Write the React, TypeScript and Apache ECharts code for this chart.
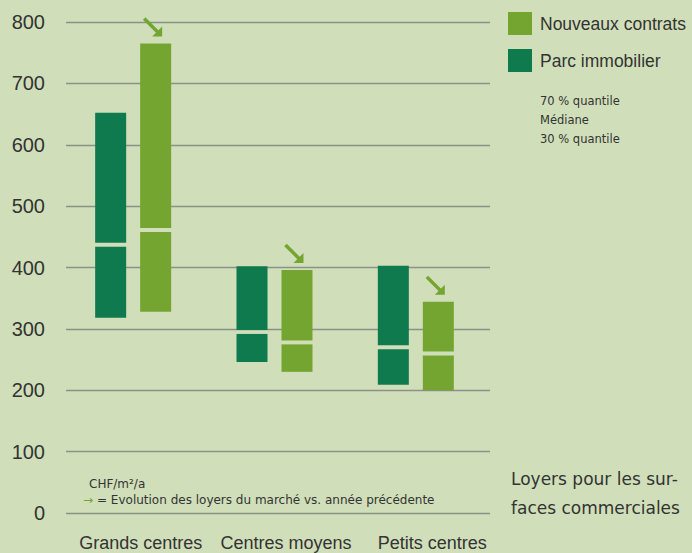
import React, { useEffect, useRef } from "react";
import * as echarts from "echarts";

const categories = ["Grands centres", "Centres moyens", "Petits centres"];
const parcQ30 = [318, 246, 209];
const parcMedian = [437, 295, 270];
const parcQ70 = [652, 402, 403];
const nouveauxQ30 = [328, 230, 200];
const nouveauxMedian = [461, 278, 260];
const nouveauxQ70 = [765, 396, 344];
const yTicks = [0, 100, 200, 300, 400, 500, 600, 700, 800];
const legendNotes = ["70 % quantile", "Médiane", "30 % quantile"];

const BG = "#d0dfb9";
const DARK = "#107a4f";
const LIGHT = "#74a531";
const TEXT = "#333333";
const GRID = "#8a908a";
const FONT = "'Liberation Sans', Arial, sans-serif";
const WIDE = "'DejaVu Sans', sans-serif";

function makeRender(offset: number, withArrow: boolean) {
  return (params: any, api: any) => {
    const i = api.value(0);
    const c = api.coord([i, 0])[0] + offset;
    const barW = 31;
    const x = c - barW / 2;
    const yBot = api.coord([i, api.value(1)])[1];
    const yMed = api.coord([i, api.value(2)])[1];
    const yTop = api.coord([i, api.value(3)])[1];
    const gap = 2;
    const color = api.visual("color");
    const children: any[] = [
      { type: "rect", shape: { x, y: yTop, width: barW, height: yMed - gap - yTop }, style: { fill: color } },
      { type: "rect", shape: { x, y: yMed + gap, width: barW, height: yBot - yMed - gap }, style: { fill: color } },
    ];
    if (withArrow) {
      const tx = x + 22;
      const ty = yTop - 7;
      children.push({
        type: "line",
        shape: { x1: x + 4, y1: yTop - 25, x2: tx - 4, y2: ty - 4 },
        style: { stroke: LIGHT, lineWidth: 3.5 },
      });
      children.push({
        type: "polygon",
        shape: { points: [[tx, ty], [tx, ty - 10], [tx - 10, ty]] },
        style: { fill: LIGHT },
      });
    }
    return { type: "group", children };
  };
}

export default function App() {
  const ref = useRef<HTMLDivElement>(null);
  useEffect(() => {
    if (!ref.current) return;
    const chart = echarts.init(ref.current, null, { renderer: "svg" });
    const parcData = categories.map((_, i) => [i, parcQ30[i], parcMedian[i], parcQ70[i]]);
    const nouvData = categories.map((_, i) => [i, nouveauxQ30[i], nouveauxMedian[i], nouveauxQ70[i]]);
    const labelPad = [8, 16, 26];
    const richBase = { fontSize: 18, color: TEXT, fontFamily: FONT, lineHeight: 19 };
    chart.setOption({
      animation: false,
      backgroundColor: BG,
      textStyle: { fontFamily: FONT },
      grid: { left: 66, right: 202, top: 22, bottom: 40, containLabel: false, outerBoundsMode: "none" },
      legend: {
        orient: "vertical",
        left: 503,
        top: 7,
        itemWidth: 24,
        itemHeight: 23,
        itemGap: 14,
        icon: "rect",
        selectedMode: false,
        data: ["Nouveaux contrats", "Parc immobilier"],
        textStyle: { fontSize: 17.5, color: TEXT, fontFamily: FONT, padding: [0, 0, 0, 3] },
      },
      xAxis: {
        type: "category",
        data: categories,
        axisLine: { show: false },
        axisTick: { show: false },
        splitLine: { show: false },
        axisLabel: {
          interval: 0,
          hideOverlap: false,
          margin: 20,
          fontSize: 18,
          color: TEXT,
          fontFamily: FONT,
          formatter: (v: string) => `{p${categories.indexOf(v)}|${v}}`,
          rich: {
            p0: { ...richBase, padding: [0, 0, 0, labelPad[0]] },
            p1: { ...richBase, padding: [0, 0, 0, labelPad[1]] },
            p2: { ...richBase, padding: [0, 0, 0, labelPad[2]] },
          },
        },
      },
      yAxis: {
        type: "value",
        min: yTicks[0],
        max: yTicks[yTicks.length - 1],
        interval: 100,
        axisLine: { show: false },
        axisTick: { show: false },
        axisLabel: { fontSize: 20, color: TEXT, margin: 21, fontFamily: FONT, padding: [6, 0, 0, 0] },
        splitLine: { show: true, lineStyle: { color: GRID, width: 1.3 } },
      },
      series: [
        {
          name: "Parc immobilier",
          type: "custom",
          itemStyle: { color: DARK },
          renderItem: makeRender(-26, false),
          encode: { x: 0, y: [1, 2, 3] },
          data: parcData,
        },
        {
          name: "Nouveaux contrats",
          type: "custom",
          itemStyle: { color: LIGHT },
          renderItem: makeRender(19, true),
          encode: { x: 0, y: [1, 2, 3] },
          data: nouvData,
        },
      ],
      graphic: [
        ...legendNotes.map((t, k) => ({
          type: "text",
          x: 540,
          y: 101 + k * 19,
          style: { text: t, font: `11.5px ${WIDE}`, fill: TEXT, verticalAlign: "middle" },
        })),
        {
          type: "text",
          x: 89,
          y: 484,
          style: { text: "CHF/m²/a", font: `12px ${WIDE}`, fill: TEXT, verticalAlign: "middle" },
        },
        {
          type: "text",
          x: 83,
          y: 500,
          style: { text: "→", font: `12px ${WIDE}`, fill: LIGHT, verticalAlign: "middle" },
        },
        {
          type: "text",
          x: 97,
          y: 500,
          style: {
            text: "= Evolution des loyers du marché vs. année précédente",
            font: `12px ${WIDE}`,
            fill: TEXT,
            verticalAlign: "middle",
          },
        },
        {
          type: "text",
          x: 511,
          y: 479,
          style: { text: "Loyers pour les sur-", font: `17px ${WIDE}`, fill: TEXT, verticalAlign: "middle" },
        },
        {
          type: "text",
          x: 511,
          y: 508,
          style: { text: "faces commerciales", font: `17px ${WIDE}`, fill: TEXT, verticalAlign: "middle" },
        },
      ],
    });
    return () => chart.dispose();
  }, []);
  return (
    <div
      ref={ref}
      style={{ position: "absolute", left: 0, top: 0, width: 692, height: 553 }}
    />
  );
}
